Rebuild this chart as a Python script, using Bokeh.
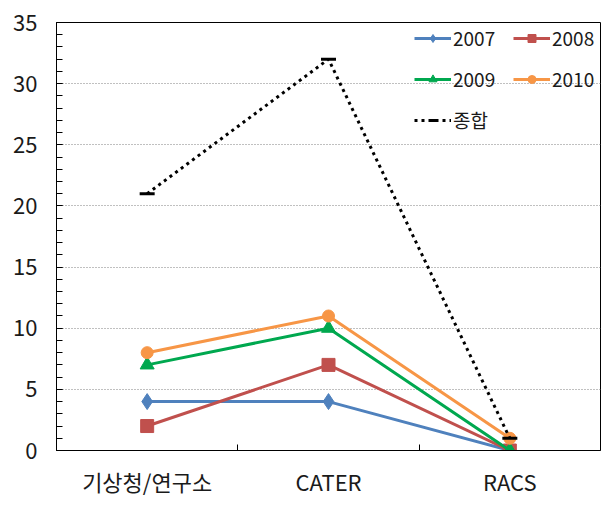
from bokeh.plotting import figure
from bokeh.models import FixedTicker, SingleIntervalTicker, Legend, LegendItem, Range1d
from bokeh.embed import file_html
from bokeh.resources import INLINE

categories = ["기상청/연구소", "CATER", "RACS"]
series_names = ["2007", "2008", "2009", "2010"]
v2007 = [4, 4, 0]
v2008 = [2, 7, 0]
v2009 = [7, 10, 0]
v2010 = [8, 11, 1]
total = [21, 32, 1]
total_label = "종합"

colors = ["#4F81BD", "#C0504D", "#00A84F", "#F79646"]
markers = ["diamond", "square", "triangle", "circle"]
msizes = [16, 13, 14, 12]

FONT = "Noto Sans CJK KR"

xs = [i + 0.5 for i in range(len(categories))]

p = figure(width=616, height=510, output_backend="svg", toolbar_location=None,
           x_range=Range1d(0, len(categories)), y_range=Range1d(0, 35),
           min_border_left=56, min_border_right=16, min_border_top=22,
           min_border_bottom=60)
p.outline_line_color = "black"
p.outline_line_width = 1

# x axis
p.xaxis.ticker = FixedTicker(ticks=xs, minor_ticks=[i for i in range(1, len(categories))])
p.xaxis.major_label_overrides = {x: c for x, c in zip(xs, categories)}
p.xaxis.major_tick_line_color = None
p.xaxis.minor_tick_in = 6
p.xaxis.minor_tick_out = 0
p.xaxis.minor_tick_line_color = "black"
p.xaxis.axis_line_color = "black"
p.xaxis.major_label_text_font = FONT
p.xaxis.major_label_text_font_size = "22px"
p.xaxis.major_label_text_color = "#1a1a1a"
p.xaxis.major_label_standoff = 8

# y axis
p.yaxis.ticker = SingleIntervalTicker(interval=5, num_minor_ticks=5)
p.yaxis.major_tick_in = 6
p.yaxis.major_tick_out = 0
p.yaxis.minor_tick_in = 6
p.yaxis.minor_tick_out = 0
p.yaxis.major_tick_line_color = "black"
p.yaxis.minor_tick_line_color = "black"
p.yaxis.axis_line_color = "black"
p.yaxis.major_label_text_font = FONT
p.yaxis.major_label_text_font_size = "22px"
p.yaxis.major_label_text_color = "#1a1a1a"
p.yaxis.major_label_standoff = 19

p.xgrid.visible = False
p.ygrid.grid_line_color = "#808080"
p.ygrid.grid_line_dash = "1 2"
p.ygrid.grid_line_width = 1

items = []
for name, vals, col, mk, ms in zip(series_names, [v2007, v2008, v2009, v2010],
                                   colors, markers, msizes):
    ln = p.line(xs, vals, line_color=col, line_width=3)
    sc = p.scatter(xs, vals, marker=mk, size=ms, fill_color=col, line_color=col)
    items.append(LegendItem(label=name, renderers=[ln, sc]))

tl = p.line(xs, total, line_color="black", line_width=3, line_dash="3 4")
ts = p.scatter(xs, total, marker="dash", size=15, line_color="black", line_width=3)
items.append(LegendItem(label=total_label, renderers=[tl, ts]))

legend = Legend(items=items, ncols=2, orientation="horizontal", location="top_right")
legend.background_fill_alpha = 0
legend.border_line_color = None
legend.label_text_font = FONT
legend.label_text_font_size = "19px"
legend.label_text_color = "#1a1a1a"
legend.glyph_width = 37
legend.glyph_height = 20
legend.label_height = 20
legend.label_width = 46
legend.label_standoff = 2
legend.spacing = 14
legend.margin = 2
legend.padding = 6
p.add_layout(legend)

open("out.html", "w").write(file_html(p, INLINE))
